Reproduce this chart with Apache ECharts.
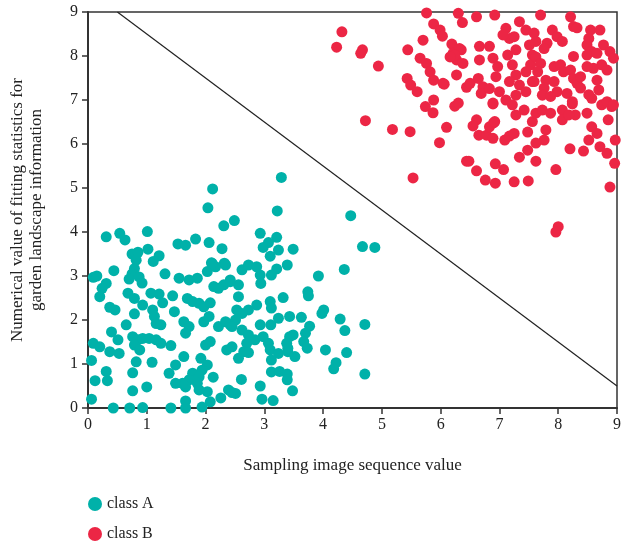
<!DOCTYPE html>
<html>
<head>
<meta charset="utf-8">
<title>Sampling image sequence scatter</title>
<script src="https://cdn.jsdelivr.net/npm/echarts@6/dist/echarts.min.js"></script>
<style>
  html, body { margin: 0; padding: 0; background: #fff; }
  #chart { width: 624px; height: 548px; }
</style>
</head>
<body>
<div id="chart"></div>
<script>
  // values
  const classA = [
    [2.12, 4.98], [2.04, 4.55], [2.49, 4.26], [2.31, 4.14], [0.31, 3.89], [0.54, 3.97], [0.63, 3.82],
    [1.01, 4.01], [2.06, 3.76], [2.28, 3.62], [1.83, 3.84], [1.53, 3.73], [1.66, 3.70], [1.02, 3.61],
    [0.75, 3.50], [0.85, 3.54], [1.21, 3.46], [1.11, 3.33], [2.10, 3.30], [2.32, 3.29], [0.82, 3.36],
    [0.79, 3.17], [0.75, 3.05], [0.70, 2.93], [0.87, 2.98], [0.92, 2.84], [1.31, 3.05], [0.44, 3.12],
    [0.09, 2.97], [0.15, 3.00], [0.31, 2.83], [0.24, 2.72], [0.20, 2.53], [0.68, 2.61], [0.79, 2.49],
    [1.55, 2.95], [1.72, 2.91], [1.86, 2.95], [2.03, 3.10], [2.17, 3.21], [2.11, 3.29], [2.34, 3.25],
    [2.42, 2.91], [2.31, 2.80], [2.22, 2.72], [2.14, 2.76], [1.44, 2.55], [1.07, 2.61], [1.21, 2.59],
    [1.69, 2.49], [1.78, 2.42], [1.89, 2.38], [1.97, 2.30], [2.08, 2.39], [0.93, 2.34], [1.27, 2.39],
    [0.37, 2.29], [0.46, 2.23], [0.79, 2.14], [1.10, 2.23], [1.13, 2.08], [1.16, 1.92], [1.47, 2.19],
    [1.24, 1.89], [1.63, 1.96], [1.72, 1.85], [1.66, 1.70], [1.97, 1.96], [2.06, 2.08], [2.22, 1.85],
    [2.34, 1.96], [2.42, 1.89], [2.51, 2.00], [0.65, 1.89], [0.40, 1.73], [0.51, 1.55], [0.09, 1.47],
    [0.20, 1.39], [0.37, 1.28], [0.53, 1.24], [0.76, 1.62], [0.85, 1.55], [0.79, 1.43], [0.88, 1.32],
    [0.93, 1.58], [1.04, 1.58], [1.16, 1.55], [1.24, 1.47], [1.41, 1.42], [2.00, 1.43], [2.08, 1.51],
    [2.36, 1.32], [2.45, 1.39], [0.06, 1.08], [0.82, 1.05], [1.09, 1.04], [1.63, 1.17], [1.49, 0.98],
    [1.38, 0.79], [1.78, 0.79], [1.72, 0.64], [1.66, 0.48], [1.61, 0.56], [1.49, 0.56], [1.92, 1.13],
    [2.03, 0.98], [1.94, 0.86], [1.89, 0.71], [1.86, 0.56], [1.89, 0.41], [2.03, 0.37], [2.08, 0.14],
    [2.13, 0.70], [0.31, 0.83], [0.33, 0.62], [0.12, 0.62], [0.76, 0.80], [0.76, 0.39], [1.00, 0.48],
    [0.06, 0.20], [1.66, 0.16], [2.26, 0.23], [2.39, 0.41], [2.51, 0.33], [0.43, 0.00], [0.71, 0.00],
    [0.93, 0.01], [1.41, 0.00], [1.66, 0.00], [1.94, 0.02],
    [3.29, 5.24], [3.22, 4.48], [4.47, 4.37], [2.93, 3.97], [3.21, 3.88], [3.07, 3.76], [2.98, 3.65],
    [3.24, 3.59], [3.10, 3.45], [3.49, 3.61], [4.67, 3.67], [4.88, 3.65], [3.39, 3.25], [3.21, 3.16],
    [3.12, 3.02], [4.36, 3.15], [3.92, 3.00], [2.62, 3.14], [2.73, 3.25], [2.87, 3.21], [2.93, 3.02],
    [2.94, 2.83], [2.56, 2.80], [2.42, 2.87], [2.56, 2.53], [3.74, 2.64], [3.75, 2.55], [3.32, 2.51],
    [3.10, 2.42], [3.12, 2.27], [2.87, 2.34], [2.73, 2.23], [2.62, 2.15], [2.53, 2.23], [3.24, 2.04],
    [3.43, 2.08], [3.63, 2.06], [3.77, 1.86], [3.70, 1.70], [3.67, 1.51], [3.73, 1.36], [3.98, 2.15],
    [4.01, 2.23], [4.29, 2.02], [4.37, 1.76], [4.71, 1.90], [2.45, 1.85], [2.62, 1.77], [2.73, 1.66],
    [2.84, 1.55], [2.70, 1.47], [2.65, 1.28], [2.56, 1.13], [2.73, 1.26], [2.93, 1.89], [3.11, 1.89],
    [2.98, 1.62], [3.07, 1.47], [3.10, 1.32], [3.12, 1.09], [3.24, 1.24], [3.40, 1.28], [3.52, 1.17],
    [3.43, 1.62], [3.49, 1.66], [3.38, 1.47], [3.40, 1.36], [4.04, 1.32], [4.40, 1.26], [4.22, 1.03],
    [4.18, 0.89], [4.71, 0.77], [3.12, 0.82], [3.26, 0.83], [3.39, 0.77], [3.39, 0.64], [2.61, 0.65],
    [2.93, 0.50], [3.48, 0.39], [2.45, 0.35], [2.96, 0.20], [3.15, 0.17]
  ];

  const classB = [
    [4.32, 8.55], [4.23, 8.20], [4.67, 8.14], [4.64, 8.06], [4.94, 7.77], [5.44, 8.14], [5.70, 8.36],
    [5.76, 8.98], [5.88, 8.73], [5.99, 8.59], [6.03, 8.45], [6.30, 8.97], [6.37, 8.76], [6.19, 8.27],
    [6.21, 8.06], [6.27, 7.91], [6.35, 8.14], [6.38, 7.83], [6.27, 7.57], [5.65, 7.95], [5.76, 7.83],
    [5.82, 7.64], [5.88, 7.45], [5.43, 7.49], [5.49, 7.34], [5.60, 7.19], [6.06, 7.36], [5.88, 7.00],
    [5.74, 6.85], [5.87, 6.71], [6.24, 6.86], [6.30, 6.93], [4.72, 6.53], [5.18, 6.33], [5.48, 6.28],
    [6.10, 6.38], [5.98, 6.03], [6.44, 5.61], [5.53, 5.23], [6.44, 7.29],
    [6.89, 6.91], [6.61, 6.55], [6.55, 6.41], [6.65, 6.20], [6.78, 6.20], [6.89, 6.13], [6.90, 6.48],
    [7.09, 6.09], [7.17, 6.18], [7.25, 6.24], [7.48, 6.27], [7.28, 6.66], [7.42, 6.77], [7.56, 6.51],
    [7.62, 6.70], [7.73, 6.77], [7.87, 6.70], [8.07, 6.77], [8.07, 6.55], [8.24, 6.91], [8.29, 6.66],
    [8.18, 6.66], [7.79, 6.32], [7.76, 6.09], [7.62, 6.02], [7.48, 5.86], [7.34, 5.70], [7.62, 5.61],
    [6.93, 5.55], [7.07, 5.42], [6.48, 5.61], [6.61, 5.39], [6.76, 5.18], [6.93, 5.11], [7.25, 5.14],
    [7.49, 5.16], [7.96, 5.42], [8.20, 5.89], [8.43, 5.84], [8.49, 6.70], [8.57, 6.39], [8.66, 6.24],
    [8.52, 6.09], [8.71, 5.94], [8.83, 5.79], [8.96, 5.56], [8.88, 5.02], [8.00, 4.12], [7.96, 4.00],
    [8.85, 6.55], [8.91, 6.85], [8.74, 6.89], [8.97, 6.09],
    [6.61, 8.89], [6.92, 8.93], [7.34, 8.78], [7.45, 8.59], [7.11, 8.63], [7.17, 8.40], [7.25, 8.44],
    [7.06, 8.48], [6.32, 8.17], [6.24, 8.02], [6.16, 7.98], [6.66, 8.22], [6.83, 8.22], [6.89, 7.95],
    [6.66, 7.91], [6.97, 7.76], [6.94, 7.53], [7.14, 8.02], [7.28, 8.14], [7.51, 8.25], [7.56, 8.02],
    [7.22, 7.80], [7.28, 7.57], [7.17, 7.42], [7.34, 7.34], [7.45, 7.64], [7.53, 7.80], [7.56, 7.42],
    [7.45, 7.19], [7.28, 7.11], [6.04, 7.38], [6.50, 7.38], [6.64, 7.49], [6.72, 7.30], [6.69, 7.15],
    [6.83, 7.26], [7.00, 7.19], [6.89, 6.93], [7.11, 7.00], [7.22, 6.89], [6.83, 6.39], [6.92, 6.51],
    [7.70, 8.93], [8.21, 8.89], [7.59, 8.52], [7.62, 8.33], [7.90, 8.59], [7.98, 8.44], [8.07, 8.33],
    [7.81, 8.29], [7.76, 8.17], [8.26, 8.67], [8.32, 8.64], [8.55, 8.59], [8.71, 8.59], [8.52, 8.40],
    [8.49, 8.25], [8.57, 8.10], [8.77, 8.25], [8.88, 8.10], [8.94, 7.95], [8.26, 7.99], [8.49, 8.02],
    [8.66, 8.06], [8.74, 7.80], [8.60, 7.72], [8.49, 7.76], [8.83, 7.68], [7.62, 7.98], [7.70, 7.83],
    [7.65, 7.64], [7.59, 7.42], [7.79, 7.45], [7.76, 7.27], [7.73, 7.11], [7.93, 7.76], [8.04, 7.80],
    [8.09, 7.64], [8.21, 7.68], [8.26, 7.49], [8.32, 7.38], [8.38, 7.53], [7.93, 7.42], [7.98, 7.19],
    [7.87, 7.08], [8.15, 7.15], [8.38, 7.27], [8.66, 7.45], [8.69, 7.23], [8.57, 7.04], [8.52, 7.12],
    [8.83, 6.96], [8.94, 6.89], [8.24, 6.96]
  ];

  // separating line, two end points in data units
  const divider = [[0.5, 9], [9, 0.5]];

  const xTicks = [0, 1, 2, 3, 4, 5, 6, 7, 8, 9];
  const yTicks = [0, 1, 2, 3, 4, 5, 6, 7, 8, 9];

  const teal = '#00b1a9';
  const red = '#ec2645';
  const font = '"Liberation Serif", "DejaVu Serif", serif';

  const chart = echarts.init(document.getElementById('chart'));

  chart.setOption({
    animation: false,
    textStyle: { fontFamily: font },
    grid: {
      left: 88,
      right: 2,
      top: 12,
      bottom: 140,
      show: true,
      borderColor: '#333',
      borderWidth: 1.5
    },
    legend: {
      data: ['class A', 'class B'],
      orient: 'vertical',
      left: 88,
      top: 495,
      padding: 0,
      height: 60,
      itemGap: 12,
      itemWidth: 14,
      itemHeight: 14,
      icon: 'circle',
      textStyle: { fontFamily: font, fontSize: 16, color: '#222', lineHeight: 18 }
    },
    xAxis: {
      type: 'value',
      min: xTicks[0],
      max: xTicks[xTicks.length - 1],
      interval: 1,
      name: 'Sampling image sequence value',
      nameLocation: 'middle',
      nameGap: 49,
      nameTextStyle: { fontFamily: font, fontSize: 17, color: '#222' },
      axisLine: { lineStyle: { color: '#333', width: 2 } },
      axisTick: { show: true, length: 6, lineStyle: { color: '#333', width: 1.5 } },
      axisLabel: { fontFamily: font, fontSize: 16, color: '#222', margin: 9 },
      splitLine: { show: false }
    },
    yAxis: {
      type: 'value',
      min: yTicks[0],
      max: yTicks[yTicks.length - 1],
      interval: 1,
      name: 'Numerical value of fitting statistics for\ngarden landscape information',
      nameLocation: 'middle',
      nameGap: 42,
      nameTextStyle: { fontFamily: font, fontSize: 17, color: '#222', lineHeight: 19 },
      axisLine: { lineStyle: { color: '#333', width: 2 } },
      axisTick: { show: true, length: 6, lineStyle: { color: '#333', width: 1.5 } },
      axisLabel: { fontFamily: font, fontSize: 16, color: '#222', margin: 10 },
      splitLine: { show: false }
    },
    series: [
      {
        name: 'divider',
        type: 'line',
        data: divider,
        symbol: 'none',
        silent: true,
        lineStyle: { color: '#222', width: 1.2 },
        z: 1
      },
      {
        name: 'class A',
        type: 'scatter',
        data: classA,
        symbolSize: 11,
        itemStyle: { color: teal, opacity: 1 },
        z: 3
      },
      {
        name: 'class B',
        type: 'scatter',
        data: classB,
        symbolSize: 11,
        itemStyle: { color: red, opacity: 1 },
        z: 3
      }
    ]
  });
</script>
</body>
</html>
